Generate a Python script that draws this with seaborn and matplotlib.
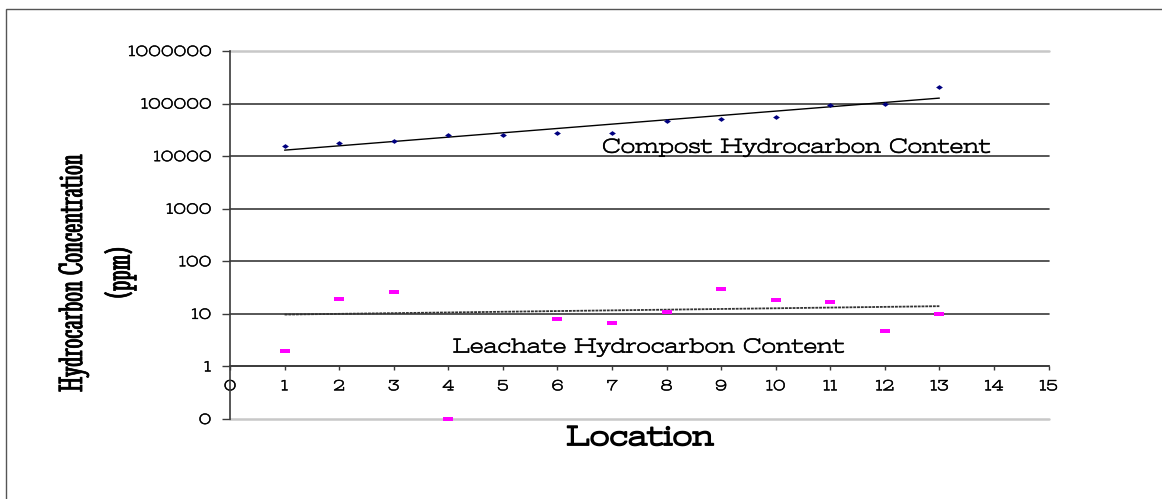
import numpy as np
import pandas as pd
import matplotlib
matplotlib.use("Agg")
import matplotlib.pyplot as plt
import seaborn as sns
from matplotlib.patches import Rectangle
from matplotlib.markers import MarkerStyle
from matplotlib.path import Path
from matplotlib.ticker import NullLocator
import matplotlib.patheffects as pe

# ---------------- data ----------------
compost_location = [1, 2, 3, 4, 5, 6, 7, 8, 9, 10, 11, 12, 13]
compost_ppm = [15500, 17600, 19200, 25000, 25700, 27500, 27500, 46000, 51700, 56500, 92600, 100000, 209000]

leachate_location = [1, 2, 3, 4, 6, 7, 8, 9, 10, 11, 12, 13]
leachate_ppm = [2.0, 18.8, 25.6, 0.1, 8.1, 6.8, 10.8, 29.7, 18.0, 16.5, 4.8, 9.9]

trend_location = [1, 13]
compost_trend_ppm = [13000, 127000]
leachate_trend_ppm = [9.7, 14.0]

y_ticks = [0.1, 1, 10, 100, 1000, 10000, 100000, 1000000]
y_tick_labels = ["0", "1", "10", "100", "1000", "10000", "100000", "1000000"]
x_ticks = list(range(0, 16))
x_tick_labels = [str(v) for v in x_ticks]

compost_label = "Compost Hydrocarbon Content"
leachate_label = "Leachate Hydrocarbon Content"
x_title = "Location"
y_title = "Hydrocarbon Concentration\n(ppm)"

# ---------------- style ----------------
sns.set_style("white")
plt.rcParams["font.family"] = ["Stint Ultra Expanded", "DejaVu Serif"]
WIDE = ["Stint Ultra Expanded", "DejaVu Serif"]
NARROW = ["Stint Ultra Condensed", "DejaVu Serif"]
DARK = "#3a3a3a"
LIGHT = "#c8c8c8"
thicken = [pe.withStroke(linewidth=0.35, foreground="black")]

fig = plt.figure(figsize=(11.62, 4.99), dpi=100)
ax = fig.add_axes([230 / 1162, 1 - 419 / 499, 818.5 / 1162, 368 / 499])
ax.set_facecolor("white")

# outer frame
fig.add_artist(Rectangle((6 / 1162, -0.1), 1.2, 1 - 9 / 499 + 0.1, transform=fig.transFigure,
                         fill=False, edgecolor="#555555", linewidth=1.0))

ax.set_yscale("log")
ax.set_xlim(0, 15)
ax.set_ylim(0.1, 1000000)

compost_df = pd.DataFrame({"Location": compost_location, "ppm": compost_ppm})
leachate_df = pd.DataFrame({"Location": leachate_location, "ppm": leachate_ppm})
trend_df = pd.DataFrame({"Location": trend_location, "compost": compost_trend_ppm,
                         "leachate": leachate_trend_ppm})

# trend lines
sns.lineplot(data=trend_df, x="Location", y="compost", color="black", linewidth=1.0, ax=ax, zorder=3)
sns.lineplot(data=trend_df, x="Location", y="leachate", color="#333333", linewidth=1.3,
             linestyle=(0, (1.6, 0.5)), ax=ax, zorder=3)

# markers
diamond = MarkerStyle(Path([(0, -0.7), (1, 0), (0, 0.7), (-1, 0), (0, -0.7)], closed=True))
rect = MarkerStyle(Path([(-1, -0.45), (1, -0.45), (1, 0.45), (-1, 0.45), (-1, -0.45)], closed=True))
sns.scatterplot(data=compost_df, x="Location", y="ppm", marker=diamond, s=24, color="#000080",
                linewidth=0, ax=ax, zorder=5, clip_on=False)
sns.scatterplot(data=leachate_df, x="Location", y="ppm", marker=rect, s=42, color="#ff00ff",
                linewidth=0, ax=ax, zorder=5, clip_on=False)

# axes styling
for s in ["top", "right"]:
    ax.spines[s].set_visible(False)
ax.spines["bottom"].set_position(("data", 1))
ax.spines["bottom"].set_color(DARK)
ax.spines["bottom"].set_linewidth(1.2)
ax.spines["left"].set_color(DARK)
ax.spines["left"].set_linewidth(1.2)
ax.spines["bottom"].set_zorder(4)

ax.set_yticks(y_ticks, y_tick_labels)
ax.yaxis.set_minor_locator(NullLocator())
ax.set_xticks(x_ticks, x_tick_labels)
ax.tick_params(axis="y", direction="out", length=5.5, width=1.0, color=DARK, pad=8,
               labelsize=11, labelcolor="black", left=True)
ax.tick_params(axis="x", direction="out", length=3, width=1.0, color=DARK, pad=7,
               labelsize=11, labelcolor="black", bottom=True)
for lab in ax.get_xticklabels() + ax.get_yticklabels():
    lab.set_fontfamily(WIDE)
    lab.set_path_effects(thicken)

ax.grid(axis="y", which="major", color=DARK, linewidth=1.2)
ax.grid(axis="x", visible=False)
glines = ax.get_ygridlines()
for i, gl in enumerate(glines):
    gl.set_clip_on(False)
    if i == 0 or i == len(glines) - 1:
        gl.set_color(LIGHT)
        gl.set_linewidth(1.8)
ax.set_axisbelow(True)

# annotations
ax.text(0.693, 0.737, compost_label, transform=ax.transAxes, ha="center", va="center",
        fontsize=15, family=WIDE, color="black", zorder=6, path_effects=thicken)
ax.text(0.513, 0.194, leachate_label, transform=ax.transAxes, ha="center", va="center",
        fontsize=15, family=WIDE, color="black", zorder=6, path_effects=thicken)

ax.set_xlabel(x_title, fontsize=20.5, family=WIDE, color="black",
              path_effects=[pe.withStroke(linewidth=1.1, foreground="black")])
ax.xaxis.set_label_coords(0.501, -0.052)
ax.xaxis.label.set_va("center")

ax.set_ylabel(y_title, fontsize=25, family=NARROW, color="black", linespacing=1.55,
              ha="center", va="center", multialignment="center",
              path_effects=[pe.withStroke(linewidth=0.45, foreground="black")])
ax.yaxis.set_label_coords(-0.162, 0.397)

fig.savefig("out.png", dpi=100)
